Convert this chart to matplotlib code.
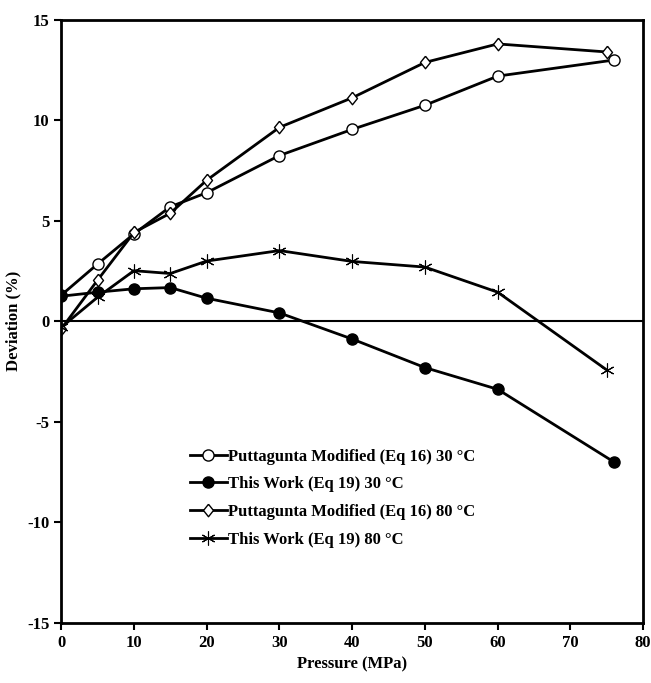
import numpy as np
import matplotlib
matplotlib.use("Agg")
import matplotlib.pyplot as plt

# pressure (MPa) and deviation (%) for each series
p_putt30 = [0, 5, 10, 15, 20, 30, 40, 50, 60, 76]
d_putt30 = [1.3, 2.85, 4.35, 5.7, 6.4, 8.25, 9.55, 10.75, 12.2, 13.0]

p_work30 = [0, 5, 10, 15, 20, 30, 40, 50, 60, 76]
d_work30 = [1.25, 1.45, 1.62, 1.68, 1.15, 0.42, -0.88, -2.3, -3.38, -7.0]

p_putt80 = [0, 5, 10, 15, 20, 30, 40, 50, 60, 75]
d_putt80 = [-0.38, 2.05, 4.42, 5.38, 7.02, 9.65, 11.12, 12.88, 13.8, 13.4]

p_work80 = [0, 5, 10, 15, 20, 30, 40, 50, 60, 75]
d_work80 = [-0.3, 1.2, 2.52, 2.38, 3.0, 3.52, 2.98, 2.7, 1.45, -2.42]

labels = ["Puttagunta Modified (Eq 16) 30 \u00b0C",
          "This Work (Eq 19) 30 \u00b0C",
          "Puttagunta Modified (Eq 16) 80 \u00b0C",
          "This Work (Eq 19) 80 \u00b0C"]

plt.rcParams['font.family'] = ['Liberation Serif', 'DejaVu Serif']
plt.rcParams['font.weight'] = 'bold'
plt.rcParams['axes.unicode_minus'] = False

fig = plt.figure(figsize=(6.51, 6.83), dpi=100)
ax = fig.add_axes([0.094, 0.088, 0.894, 0.883])

# diamond a little narrower than it is tall
diamond = [(0, 1), (0.8, 0), (0, -1), (-0.8, 0), (0, 1)]

lw = 2.0
ax.axhline(0, color='black', lw=1.5, zorder=1)
ax.plot(p_putt30, d_putt30, '-o', color='black', lw=lw, ms=8, mfc='white', mec='black', mew=1.0, label=labels[0])
ax.plot(p_work30, d_work30, '-o', color='black', lw=lw, ms=8, mfc='black', mec='black', label=labels[1])
ax.plot(p_putt80, d_putt80, '-', marker=diamond, color='black', lw=lw, ms=9, mfc='white', mec='black', mew=1.0, label=labels[2])
ax.plot(p_work80, d_work80, '-', color='black', lw=lw, marker=(6, 2, 0), ms=10, mec='black', mew=0.8, label=labels[3])

ax.set_xlim(0, 80)
ax.set_ylim(-15, 15)
ax.set_xticks(np.arange(0, 81, 10))
ax.set_yticks(np.arange(-15, 16, 5))
ax.tick_params(direction='out', length=5, width=1.5, labelsize=12)
for s in ax.spines.values():
    s.set_linewidth(2.0)

ax.set_xlabel('Pressure (MPa)', fontsize=12, fontweight='bold')
ax.set_ylabel('Deviation (%)', fontsize=12, fontweight='bold')

ax.legend(loc='upper left', bbox_to_anchor=(0.21, 0.30), frameon=False, fontsize=12,
          handlelength=2.2, handletextpad=0.05, labelspacing=0.7, borderaxespad=0)

fig.savefig('out.png', dpi=100)
